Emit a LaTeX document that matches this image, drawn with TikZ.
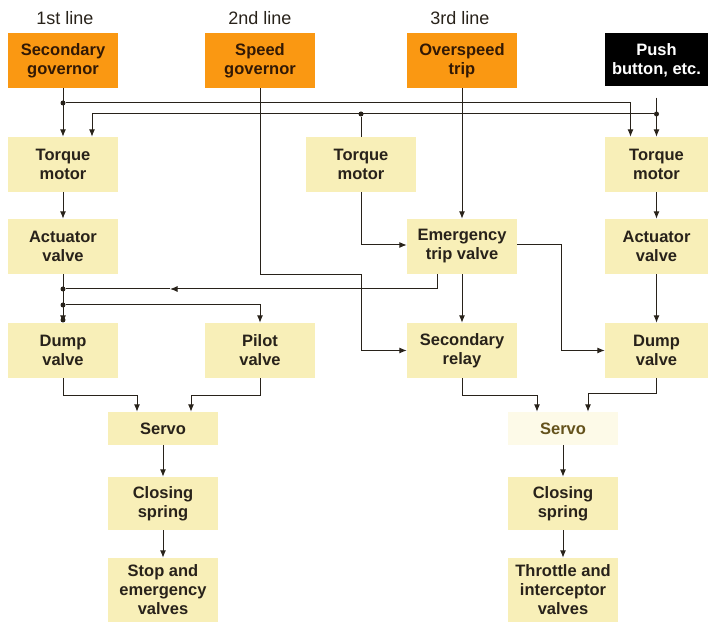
\documentclass[tikz,border=0pt]{standalone}
\usepackage{fontspec}
\setmainfont{Liberation Sans}
\usepackage{xcolor}
\usepackage{tikz}
\usetikzlibrary{shapes,arrows.meta,positioning}

\definecolor{govorange}{RGB}{250,152,18}
\definecolor{paleyellow}{RGB}{248,239,184}
\definecolor{fadedyellow}{RGB}{253,250,232}
\definecolor{ink}{RGB}{40,34,26}
\definecolor{olive}{RGB}{100,82,28}

\begin{document}
\begin{tikzpicture}[
  x=10pt, y=10pt,
  box/.style={
    rectangle,
    fill=paleyellow,
    minimum width=110pt,
    minimum height=55pt,
    inner sep=1pt,
    align=center,
    text=ink,
    font=\fontsize{16.5}{19}\selectfont\bfseries
  },
  gov/.style={
    box,
    fill=govorange,
    text={rgb,255:red,50;green,25;blue,5}
  },
  pushbox/.style={
    box,
    fill=black,
    text=white,
    minimum width=103pt,
    minimum height=53pt
  },
  servobox/.style={
    box,
    minimum height=33pt
  },
  linelabel/.style={
    font=\fontsize{18}{20}\selectfont,
    text=ink
  },
  dot/.style={
    circle,
    fill=ink,
    inner sep=0pt,
    minimum size=5pt
  },
  arrow/.style={
    ->,
    line width=1pt,
    draw=ink,
    >={Latex[length=7.5pt,width=6pt]}
  },
  wire/.style={
    line width=1pt,
    draw=ink
  }
]
  \useasboundingbox (0,0) rectangle (71.1,62.6);

  % Line headings
  \node[linelabel] (first) at (6.5,60.8) {1st line};
  \node[linelabel] (second) at (26.0,60.8) {2nd line};
  \node[linelabel] (third) at (46.0,60.8) {3rd line};

  % Governors and trips
  \node[gov] (secgov) at (6.3,56.55) {Secondary\\governor};
  \node[gov] (spgov) at (26.0,56.55) {Speed\\governor};
  \node[gov] (ovtrip) at (46.2,56.55) {Overspeed\\trip};
  \node[pushbox] (push) at (65.65,56.6) {Push\\button, etc.};

  % Torque motors
  \node[box] (tmA) at (6.3,46.15) {Torque\\motor};
  \node[box] (tmM) at (36.1,46.15) {Torque\\motor};
  \node[box, minimum width=103pt] (tmD) at (65.65,46.15) {Torque\\motor};

  % Actuator and trip valves
  \node[box] (actA) at (6.3,37.95) {Actuator\\valve};
  \node[box] (etv) at (46.2,37.95) {Emergency\\trip valve};
  \node[box, minimum width=103pt] (actD) at (65.65,37.95) {Actuator\\valve};

  % Dump, pilot and relay
  \node[box] (dumpA) at (6.3,27.55) {Dump\\valve};
  \node[box] (pilot) at (26.0,27.55) {Pilot\\valve};
  \node[box] (relay) at (46.2,27.55) {Secondary\\relay};
  \node[box, minimum width=103pt] (dumpD) at (65.65,27.55) {Dump\\valve};

  % Servos
  \node[servobox] (servoA) at (16.3,19.75) {Servo};
  \node[servobox, fill=fadedyellow, text=olive] (servoB) at (56.3,19.75) {Servo};

  % Closing springs
  \node[box, minimum height=53pt] (springA) at (16.3,12.25) {Closing\\spring};
  \node[box, minimum height=53pt] (springB) at (56.3,12.25) {Closing\\spring};

  % Valves
  \node[box, minimum height=64pt] (stopv) at (16.3,3.6) {Stop and\\emergency\\valves};
  \node[box, minimum height=64pt] (throttlev) at (56.3,3.6) {Throttle and\\interceptor\\valves};

  % Junctions
  \node[dot] (jA1) at (6.3,52.3) {};
  \node[dot] (jD2) at (65.65,51.2) {};
  \node[dot] (jM) at (36.1,51.2) {};
  \node[dot] (jA3) at (6.3,33.7) {};
  \node[dot] (jA4) at (6.3,32.1) {};
  \node[dot] (jA5) at (6.3,30.6) {};
  \coordinate (back) at (17.0,33.7);

  % Arrows - torque motor inputs
  \draw[arrow] (secgov) -- (tmA);
  \draw[arrow] (jA1) -| ([xshift=-26pt]tmD.north);
  \draw[arrow, shorten <=11pt] (push) -- (tmD);
  \draw[arrow] (jD2) -| ([xshift=29pt]tmA.north);
  \draw[wire] (jM) -- (tmM);

  % Arrows - first line
  \draw[arrow] (tmA) -- (actA);
  \draw[arrow] (actA) -- (dumpA);
  \draw[arrow] (jA4) -| (pilot);

  % Arrows - second and third line
  \draw[arrow] (spgov) |- (36.1,35.1) |- (relay.west);
  \draw[arrow] (tmM) |- ([yshift=1.5pt]etv.west);
  \draw[arrow] (ovtrip) -- (etv);
  \draw[arrow] (etv) -- (relay);
  \draw[arrow] ([yshift=1.5pt]etv.east) -- ++(4.4,0) |- (dumpD.west);
  \draw[arrow] ([xshift=-25pt]etv.south) |- (back);
  \draw[wire] (back) -- (jA3);

  % Arrows - push button line
  \draw[arrow] (tmD) -- (actD);
  \draw[arrow] (actD) -- (dumpD);

  % Converging on servos
  \draw[arrow] (dumpA.south) -- ++(0,-1.7) -| ([xshift=-26pt]servoA.north);
  \draw[arrow] (pilot.south) -- ++(0,-1.7) -| ([xshift=28pt]servoA.north);
  \draw[arrow] (relay.south) -- ++(0,-1.7) -| ([xshift=-26pt]servoB.north);
  \draw[arrow] (dumpD.south) -- ++(0,-1.5) -| ([xshift=25pt]servoB.north);

  % Closing chain
  \draw[arrow] (servoA) -- (springA);
  \draw[arrow] (springA) -- (stopv);
  \draw[arrow] (servoB) -- (springB);
  \draw[arrow] (springB) -- (throttlev);

\end{tikzpicture}
\end{document}
